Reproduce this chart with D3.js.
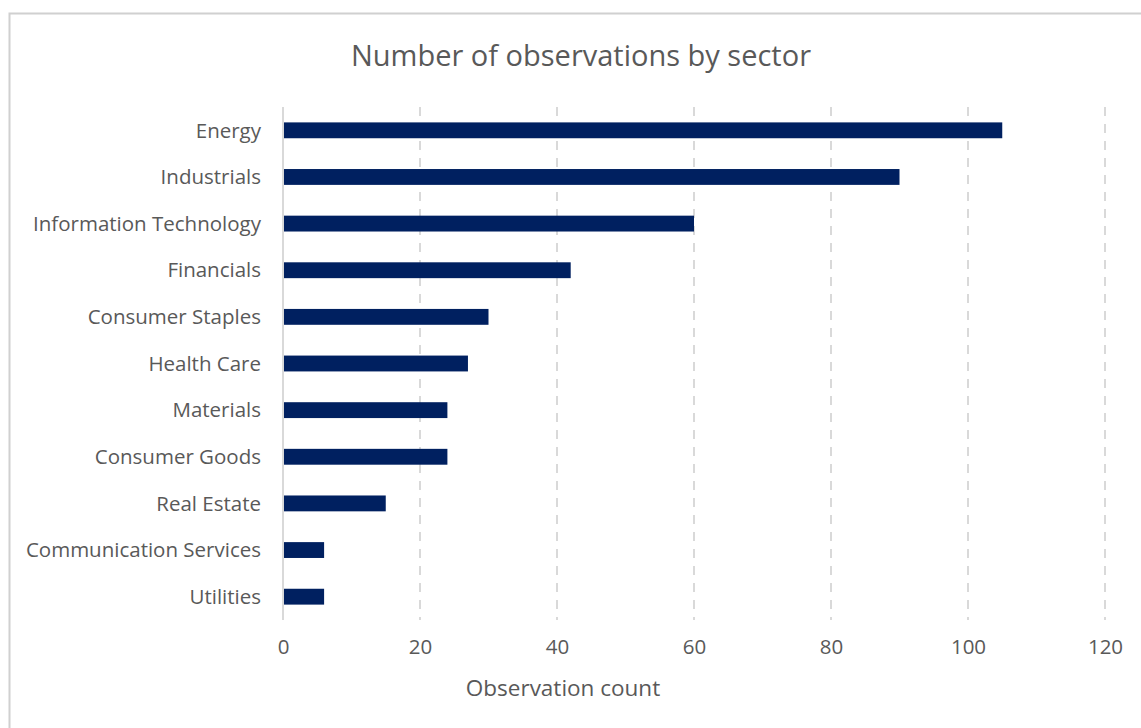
<!DOCTYPE html>
<html>
<head>
<meta charset="utf-8">
<script src="https://cdn.jsdelivr.net/npm/d3@7"></script>
<style>
  body { margin: 0; background: #fff; }
  text { font-family: "Open Sans", Lato, sans-serif; fill: #595959; }
</style>
</head>
<body>
<script>
const sectors = ["Energy", "Industrials", "Information Technology", "Financials",
  "Consumer Staples", "Health Care", "Materials", "Consumer Goods", "Real Estate",
  "Communication Services", "Utilities"];
const counts = [105, 90, 60, 42, 30, 27, 24, 24, 15, 6, 6];
const xTicks = [0, 20, 40, 60, 80, 100, 120];

const W = 1141, H = 728;
const margin = {top: 107, right: 36, bottom: 108, left: 283};
const width = W - margin.left - margin.right;
const height = H - margin.top - margin.bottom;

const svg = d3.select("body").append("svg")
  .attr("width", W)
  .attr("height", H);

// chart frame
svg.append("rect")
  .attr("x", 9.5).attr("y", 13.5)
  .attr("width", W + 20).attr("height", H + 20)
  .attr("fill", "none")
  .attr("stroke", "#d0d0d0")
  .attr("stroke-width", 2);

svg.append("text")
  .attr("x", 581).attr("y", 66)
  .attr("text-anchor", "middle")
  .style("font-size", "29px")
  .text("Number of observations by sector");

const x = d3.scaleLinear().domain([0, 120]).range([0, width]);
const y = d3.scaleBand().domain(sectors).range([0, height]).paddingInner(0.66).paddingOuter(0.33);

const g = svg.append("g").attr("transform", `translate(${margin.left},${margin.top})`);

// dashed gridlines
g.selectAll(".grid")
  .data(xTicks.filter(d => d > 0))
  .enter().append("line")
  .attr("x1", d => x(d)).attr("x2", d => x(d))
  .attr("y1", 0).attr("y2", height)
  .attr("stroke", "#d9d9d9")
  .attr("stroke-width", 2)
  .attr("stroke-dasharray", "9,8");

// bars
g.selectAll(".bar")
  .data(counts)
  .enter().append("rect")
  .attr("x", 0)
  .attr("y", (d, i) => y(sectors[i]))
  .attr("width", d => x(d))
  .attr("height", y.bandwidth())
  .attr("fill", "#002060");

// zero axis line
g.append("line")
  .attr("x1", 0).attr("x2", 0)
  .attr("y1", 0).attr("y2", height)
  .attr("stroke", "#d9d9d9")
  .attr("stroke-width", 2);

const yAxis = g.append("g")
  .call(d3.axisLeft(y).tickSize(0).tickPadding(22));
yAxis.select(".domain").remove();
yAxis.selectAll("text").style("font-size", "20.5px").attr("dy", "0.35em");

const xAxis = g.append("g")
  .attr("transform", `translate(0,${height})`)
  .call(d3.axisBottom(x).tickValues(xTicks).tickSize(0).tickPadding(19));
xAxis.select(".domain").remove();
xAxis.selectAll("text").style("font-size", "20.5px");

svg.append("text")
  .attr("x", 563).attr("y", 696)
  .attr("text-anchor", "middle")
  .style("font-size", "22.5px")
  .text("Observation count");
</script>
</body>
</html>
